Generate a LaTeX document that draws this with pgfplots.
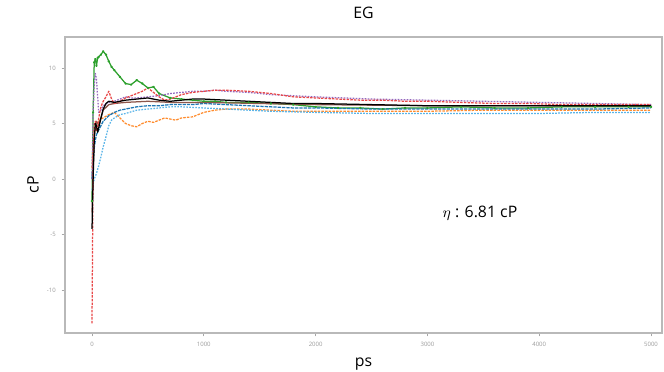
\documentclass[border=0pt]{standalone}
\usepackage{pgfplots}
\pgfplotsset{compat=1.18}
\usepackage{fontspec}
\setmainfont{Open Sans}
\definecolor{tgreen}{HTML}{2CA02C}
\definecolor{tred}{HTML}{E8494A}
\definecolor{tpurple}{HTML}{9467BD}
\definecolor{tblue}{HTML}{1F77B4}
\definecolor{tlblue}{HTML}{5AB4E8}
\definecolor{torange}{HTML}{FF8C2E}
\definecolor{tbrown}{HTML}{8C564B}
\begin{document}
\begin{tikzpicture}
\begin{axis}[
  scale only axis, width=358.2pt, height=177.6pt,
  xmin=-241.5, xmax=5098, ymin=-13.87, ymax=12.79,
  axis line style={draw=gray!55, line width=0.9pt},
  tick style={gray!70, line width=0.4pt},
  major tick length=2pt,
  tick align=outside, xtick pos=bottom, ytick pos=left,
  xtick={0,1000,2000,3000,4000,5000},
  ytick={-10,-5,0,5,10},
  scaled x ticks=false,
  xticklabel style={font=\fontsize{3.6}{4}\selectfont, text=gray!80},
  yticklabel style={font=\fontsize{3.6}{4}\selectfont, text=gray!80},
  /pgf/number format/assume math mode=true,
  /pgf/number format/1000 sep={},
  title={EG},
  every axis title/.style={at={(axis description cs:0.5,1.081)}, anchor=center, font=\fontsize{9.5}{10}\selectfont},
  xlabel={ps},
  every axis x label/.style={at={(axis description cs:0.5,-0.105)}, anchor=center, font=\fontsize{9.5}{10}\selectfont},
  ylabel={cP},
  every axis y label/.style={at={(axis description cs:-0.0536,0.5)}, anchor=center, rotate=90, font=\fontsize{9.5}{10}\selectfont},
  clip=true,
  every axis plot/.append style={line width=0.75pt, line join=round},
]
% green
\addplot[tgreen, mark=*, mark size=0.35pt] coordinates {
(0,-2) (10,6) (20,10.5) (30,10.8) (40,10.2) (50,10.9) (60,11.0) (80,11.2) (100,11.5) (125,11.2) (150,10.6) (175,10.1) (200,9.8) (250,9.2) (300,8.6) (350,8.5) (400,8.9) (450,8.6) (500,8.2) (550,8.3) (600,7.7) (700,7.3) (800,7.2) (900,7.1) (1000,7.0) (1100,7.0) (1200,6.9) (1400,6.9) (1600,6.8) (1800,6.7) (2000,6.5) (2200,6.4) (2400,6.4) (2600,6.3) (2800,6.4) (3000,6.4) (3300,6.5) (3600,6.4) (3900,6.4) (4200,6.5) (4500,6.5) (4800,6.5) (5000,6.5)};
% orange
\addplot[torange, dash pattern=on 1.5pt off 0.7pt] coordinates {
(0,1) (10,2.5) (20,4.0) (30,4.5) (40,5.0) (60,5.2) (80,5.4) (100,5.5) (150,5.8) (200,6.0) (250,5.5) (300,5.0) (350,4.8) (400,4.7) (450,5.0) (500,5.2) (550,5.1) (600,5.3) (650,5.5) (700,5.4) (750,5.3) (800,5.5) (900,5.6) (1000,6.0) (1100,6.2) (1200,6.3) (1400,6.3) (1600,6.2) (1800,6.1) (2000,6.1) (2500,6.1) (3000,6.1) (3500,6.2) (4000,6.2) (4500,6.2) (5000,6.2)};
% light blue
\addplot[tlblue, dash pattern=on 1pt off 0.8pt] coordinates {
(0,-1) (20,0) (40,0.5) (60,1.2) (80,2.0) (100,2.9) (125,3.8) (150,4.8) (175,5.3) (200,5.5) (250,5.8) (300,5.9) (400,6.2) (500,6.3) (600,6.4) (700,6.5) (800,6.5) (1000,6.4) (1200,6.3) (1400,6.2) (1600,6.1) (2000,6.0) (2500,5.9) (3000,5.9) (3500,5.9) (4000,5.9) (4500,6.0) (5000,6.0)};
% blue
\addplot[tblue, dash pattern=on 2pt off 0.6pt] coordinates {
(0,0) (10,1.5) (20,2.8) (30,3.5) (40,4.0) (60,4.4) (80,4.8) (100,5.2) (150,5.7) (200,6.0) (250,6.2) (300,6.3) (400,6.5) (500,6.6) (600,6.6) (700,6.7) (800,6.7) (900,6.7) (1000,6.8) (1200,6.7) (1400,6.6) (1600,6.5) (1800,6.4) (2000,6.4) (2500,6.3) (3000,6.3) (3500,6.3) (4000,6.3) (4500,6.3) (5000,6.4)};
% brown
\addplot[tbrown] coordinates {
(0,-3) (20,4) (40,5.2) (60,4.8) (100,6.2) (150,6.7) (200,6.8) (300,6.9) (500,7.0) (700,6.9) (1000,6.9) (1500,6.8) (2000,6.7) (3000,6.6) (4000,6.6) (5000,6.6)};
% purple
\addplot[tpurple, dash pattern=on 1pt off 0.8pt] coordinates {
(0,0) (10,6) (20,8.5) (30,9.5) (40,9.0) (50,7.5) (60,6.0) (80,6.2) (100,6.6) (150,6.9) (200,7.0) (250,7.2) (300,7.4) (350,7.3) (400,7.3) (500,7.4) (600,7.5) (700,7.7) (800,7.8) (900,7.9) (1000,7.9) (1100,8.0) (1200,7.9) (1400,7.8) (1600,7.6) (1800,7.5) (2000,7.4) (2500,7.2) (3000,7.1) (3500,7.0) (4000,6.9) (4500,6.8) (5000,6.7)};
% red
\addplot[tred, dash pattern=on 1.5pt off 0.7pt] coordinates {
(0,-13) (5,-6) (10,2) (20,4.8) (30,5.2) (40,4.3) (50,4.6) (60,5.5) (80,6.5) (100,7.0) (125,7.4) (150,7.9) (175,7.2) (200,6.8) (250,7.0) (300,7.3) (350,7.5) (400,7.7) (450,7.9) (500,8.2) (550,7.8) (600,7.4) (650,7.1) (700,7.2) (800,7.6) (900,7.8) (1000,7.9) (1100,8.0) (1200,8.0) (1400,7.9) (1600,7.7) (1800,7.4) (2000,7.3) (2200,7.2) (2400,7.1) (2600,7.1) (2800,7.0) (3000,7.0) (3300,6.9) (3600,6.8) (3900,6.8) (4200,6.7) (4500,6.7) (4800,6.7) (5000,6.7)};
% black
\addplot[black] coordinates {
(0,-4.5) (10,0) (20,3.5) (30,5.0) (40,4.8) (50,4.2) (60,4.6) (80,5.5) (100,6.3) (125,6.8) (150,7.0) (200,6.9) (250,7.0) (300,7.1) (400,7.2) (500,7.3) (600,7.1) (700,7.0) (800,7.1) (900,7.2) (1000,7.2) (1200,7.1) (1400,7.0) (1600,6.9) (1800,6.8) (2000,6.8) (2500,6.7) (3000,6.6) (3500,6.6) (4000,6.6) (4500,6.6) (5000,6.6)};
\node[font=\fontsize{9.5}{11}\selectfont] at (axis cs:3470,-3.1) {$\eta$ : 6.81 cP};
\end{axis}
\pgfresetboundingbox
\path[use as bounding box] ([xshift=-39pt,yshift=-22.8pt]current axis.south west) rectangle ([xshift=1.2pt,yshift=22.2pt]current axis.north east);
\end{tikzpicture}
\end{document}
